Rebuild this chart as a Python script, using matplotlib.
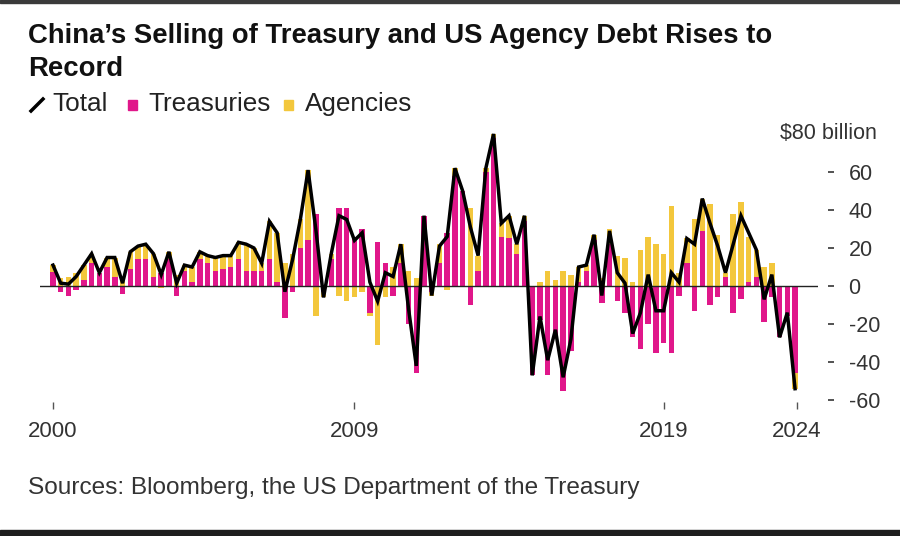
import numpy as np
import matplotlib.pyplot as plt
from matplotlib.patches import Rectangle
from matplotlib.lines import Line2D
import matplotlib.transforms as mtransforms

plt.rcParams['font.family'] = ['Liberation Sans', 'DejaVu Sans']

# quarterly net flows ($ billion), 2000 -> early 2024
treasuries = [7.5, -3, -5, -2, 3, 12, 7, 10, 5, -4, 9, 14, 14, 5, 7, 14, -5, 8, 2, 14,
              12, 8, 9, 10, 14, 8, 8, 8, 14, 2, -17, -3, 20, 24, 38, -3, 14, 41, 41, 26,
              30, -14, 23, 12, -5, 12, -20, -46, 37, -3, 12, 28, 58, 50, -10, 8, 60, 78, 26, 25,
              17, 34, -47, -18, -47, -26, -55, -34, 2, 8, 24, -9, 22, -8, -14, -27, -33, -20, -35, -30,
              -35, -5, 12, -13, 29, -10, -6, 5, -14, -7, 2, 5, -19, -6, -27, -16, -46]
agencies = [3.5, 4, 5, 7, 8, 5, 0, 5, 10, 5, 9, 7, 8, 12, -1, 4, 6, 3, 8, 4,
            4, 7, 7, 6, 9, 14, 12, 4, 20, 26, 12, 17, 15, 37, -16, -3, 3, -5, -8, -6,
            -3, -2, -31, -6, 10, 10, 8, 4, 0, -2, 10, -2, 4, 0, 41, 8, 2, 2, 7, 12,
            5, 3, 0, 2, 8, 3, 8, 6, 8, 3, 3, 4, 8, 16, 15, 2, 19, 26, 22, 17,
            42, 7, 13, 35, 17, 43, 27, 2, 38, 44, 24, 14, 10, 12, 0, 0, -8]
total = [11, 1.5, 1, 5, 11, 17, 7, 15, 15, 1.5, 18, 21, 22, 17, 6, 18, 1.5, 11, 10, 18,
         16, 15, 16, 16, 23, 22, 20, 12, 34, 28, -3, 14, 35, 61, 30, -6, 17, 37, 35, 24,
         28, 2, -8, 7, 5, 22, -12, -42, 37, -5, 21, 26, 62, 50, 31, 16, 62, 80, 33, 37,
         22, 37, -47, -16, -39, -23, -48, -28, 10, 11, 27, -5, 29, 7, 1.5, -25, -14, 6, -13, -13,
         7, 2, 25, 22, 46, 33, 21, 7, 22, 37, 28, 19, -7, 6, -27, -14, -54]

year_ticks = [0, 39, 79, 96.2]
year_labels = ['2000', '2009', '2019', '2024']
y_ticks = [-60, -40, -20, 0, 20, 40, 60]

PINK = '#e0178a'
YELLOW = '#f3c73c'

W, H = 900, 536
fig = plt.figure(figsize=(W / 100, H / 100), dpi=100)
fig.patch.set_facecolor('white')


def fx(px):
    return px / W


def fy(py):
    return 1 - py / H


ax = fig.add_axes([fx(40), fy(402), 778 / W, 277 / H])

x = np.arange(len(total))
t = np.array(treasuries, dtype=float)
a = np.array(agencies, dtype=float)
# agencies stack on treasuries when both go the same way, else start from zero
same_sign = ((a >= 0) & (t > 0)) | ((a < 0) & (t < 0))
a_bottom = np.where(same_sign, t, 0)

ax.bar(x, t, width=0.7, color=PINK, linewidth=0, zorder=2)
ax.bar(x, a, bottom=a_bottom, width=0.7, color=YELLOW, linewidth=0, zorder=2)
ax.axhline(0, color='#222222', lw=1.0, zorder=3)
ax.plot(x, total, color='black', lw=2.5, solid_joinstyle='miter', zorder=4)

ax.set_xlim(-1.68, 98.97)
ax.set_ylim(-61, 84.7)

for s in ['top', 'left', 'bottom', 'right']:
    ax.spines[s].set_visible(False)
ax.spines['right'].set_position(('outward', 7))

ax.yaxis.tick_right()
ax.set_yticks(y_ticks)
ax.set_yticklabels([str(v) for v in y_ticks])
ax.tick_params(axis='y', length=4, width=1.3, color='#444444', pad=11,
               labelsize=15.5, labelcolor='#333333')
trans = mtransforms.blended_transform_factory(fig.transFigure, ax.transData)
ax.text(fx(877), 80, '$80 billion', transform=trans, ha='right', va='center',
        fontsize=15.5, color='#333333')

ax.set_xticks(year_ticks)
ax.set_xticklabels(year_labels)
ax.tick_params(axis='x', length=5, width=1.0, color='#555555', pad=9,
               labelsize=16, labelcolor='#333333')

# title
fig.text(fx(28), fy(43), 'China\u2019s Selling of Treasury and US Agency Debt Rises to',
         fontsize=19.8, fontweight='bold', color='#111111', va='baseline')
fig.text(fx(28), fy(76), 'Record', fontsize=19.8, fontweight='bold', color='#111111', va='baseline')

# legend
fig.add_artist(Line2D([fx(31), fx(43)], [fy(111), fy(99)], color='black', lw=2.5))
fig.text(fx(52), fy(111), 'Total', fontsize=18.8, color='#222222', va='baseline')
fig.add_artist(Rectangle((fx(128), fy(110)), 9 / W, 10 / H, color=PINK, transform=fig.transFigure))
fig.text(fx(148), fy(111), 'Treasuries', fontsize=18.8, color='#222222', va='baseline')
fig.add_artist(Rectangle((fx(284), fy(110)), 9 / W, 10 / H, color=YELLOW, transform=fig.transFigure))
fig.text(fx(305), fy(111), 'Agencies', fontsize=18.8, color='#222222', va='baseline')

# source
fig.text(fx(28), fy(494), 'Sources: Bloomberg, the US Department of the Treasury',
         fontsize=17.6, color='#333333', va='baseline')

# screenshot frame edges
fig.add_artist(Rectangle((0, fy(3)), 1, 3 / H, color='#3a3a3a', transform=fig.transFigure))
fig.add_artist(Rectangle((0, 0), 1, 6 / H, color='#1e1e1e', transform=fig.transFigure))

fig.savefig('out.png', dpi=100)
